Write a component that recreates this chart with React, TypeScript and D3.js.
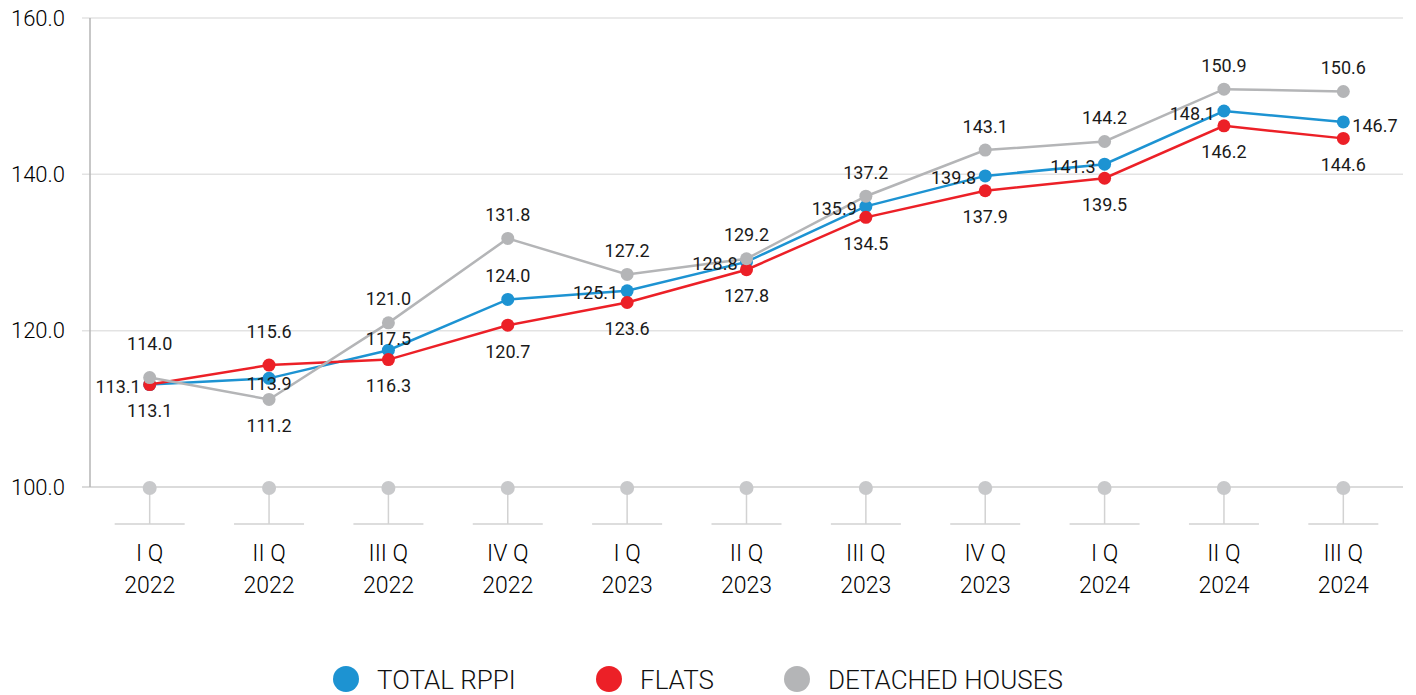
import * as d3 from 'd3';

// quarters on the x axis
const quarters = ['I Q', 'II Q', 'III Q', 'IV Q', 'I Q', 'II Q', 'III Q', 'IV Q', 'I Q', 'II Q', 'III Q'];
const years = ['2022', '2022', '2022', '2022', '2023', '2023', '2023', '2023', '2024', '2024', '2024'];

const totalRppi = [113.1, 113.9, 117.5, 124.0, 125.1, 128.8, 135.9, 139.8, 141.3, 148.1, 146.7];
const flats = [113.1, 115.6, 116.3, 120.7, 123.6, 127.8, 134.5, 137.9, 139.5, 146.2, 144.6];
const detached = [114.0, 111.2, 121.0, 131.8, 127.2, 129.2, 137.2, 143.1, 144.2, 150.9, 150.6];

const yTicks = [100, 120, 140, 160];

// where each value label sits relative to its point
const totalPlace = ['L', 'C', 'a', 'A', 'L', 'L', 'L', 'L', 'L', 'L', 'R'];
const flatsPlace = ['B', 'A2', 'B', 'B', 'B', 'B', 'B', 'B', 'B', 'B', 'B'];
const detachedPlace = ['A2', 'B', 'A', 'A', 'A', 'A', 'A', 'A', 'A', 'A', 'A'];

const width = 1416;
const height = 695;
const margin = { top: 18, right: 13, bottom: 208, left: 90 };

const series = [
  { name: 'TOTAL RPPI', values: totalRppi, place: totalPlace, color: '#1d93d2' },
  { name: 'FLATS', values: flats, place: flatsPlace, color: '#ec2027' },
  { name: 'DETACHED HOUSES', values: detached, place: detachedPlace, color: '#b4b5b7' },
];

const legendX = [346, 609, 797];

const placeOffset = (code: string) => {
  switch (code) {
    case 'L': return { dx: -9, dy: 2, anchor: 'end' };
    case 'R': return { dx: 9, dy: 4, anchor: 'start' };
    case 'C': return { dx: 0, dy: 5, anchor: 'middle' };
    case 'a': return { dx: 0, dy: -12, anchor: 'middle' };
    case 'A2': return { dx: 0, dy: -34, anchor: 'middle' };
    case 'B': return { dx: 0, dy: 26, anchor: 'middle' };
    default: return { dx: 0, dy: -24, anchor: 'middle' };
  }
};

export default function App() {
  const idx = quarters.map((_, i) => String(i));
  const x = d3.scaleBand().domain(idx).range([margin.left, width - margin.right]);
  const y = d3.scaleLinear().domain([100, 160]).range([height - margin.bottom, margin.top]);
  const cx = (i: number) => (x(String(i)) as number) + x.bandwidth() / 2;

  const line = d3.line<number>()
    .x((_, i) => cx(i))
    .y(d => y(d));

  const font = 'Roboto, "Noto Sans", sans-serif';
  const axisY = y(100);

  return (
    <svg width={width} height={height} style={{ position: 'absolute', left: 0, top: 0, fontFamily: font }}>
      {/* grid + y ticks */}
      {yTicks.map(t => (
        <g key={t}>
          <line x1={margin.left - 8} x2={width - margin.right} y1={y(t)} y2={y(t)}
            stroke={t === 100 ? '#cfcfcf' : '#e3e3e3'} strokeWidth={1.5} />
          <text x={margin.left - 25} y={y(t)} textAnchor="end" dominantBaseline="central"
            fontSize={22} fontWeight={300} fill="#000">{t.toFixed(1)}</text>
        </g>
      ))}
      <line x1={margin.left} x2={margin.left} y1={y(160)} y2={axisY} stroke="#b5b5b5" strokeWidth={1.5} />

      {/* x axis decorations */}
      {idx.map((k, i) => (
        <g key={k}>
          <line x1={cx(i)} x2={cx(i)} y1={axisY} y2={axisY + 37} stroke="#d2d2d2" strokeWidth={1.5} />
          <line x1={cx(i) - 35} x2={cx(i) + 35} y1={axisY + 37} y2={axisY + 37} stroke="#d2d2d2" strokeWidth={1.5} />
          <circle cx={cx(i)} cy={axisY + 1} r={7} fill="#c8c9cb" />
          <text x={cx(i)} y={axisY + 66} textAnchor="middle" dominantBaseline="central"
            fontSize={23} fontWeight={300} fill="#000">{quarters[i]}</text>
          <text x={cx(i)} y={axisY + 98} textAnchor="middle" dominantBaseline="central"
            fontSize={23} fontWeight={300} fill="#000">{years[i]}</text>
        </g>
      ))}

      {/* lines and points */}
      {series.map(s => (
        <g key={s.name}>
          <path d={line(s.values) ?? ''} fill="none" stroke={s.color} strokeWidth={2.5} />
          {s.values.map((v, i) => (
            <circle key={i} cx={cx(i)} cy={y(v)} r={6.5} fill={s.color} />
          ))}
        </g>
      ))}

      {/* value labels */}
      {series.map(s => (
        <g key={s.name + '-lbl'}>
          {s.values.map((v, i) => {
            const o = placeOffset(s.place[i]);
            return (
              <text key={i} x={cx(i) + o.dx} y={y(v) + o.dy} textAnchor={o.anchor}
                dominantBaseline="central" fontSize={18} fill="#1a1a1a">{v.toFixed(1)}</text>
            );
          })}
        </g>
      ))}

      {/* legend */}
      {series.map((s, i) => (
        <g key={s.name + '-leg'}>
          <circle cx={legendX[i]} cy={679} r={13} fill={s.color} />
          <text x={legendX[i] + 31} y={680} dominantBaseline="central" fontSize={26} fontWeight={300} fill="#111">{s.name}</text>
        </g>
      ))}
    </svg>
  );
}
